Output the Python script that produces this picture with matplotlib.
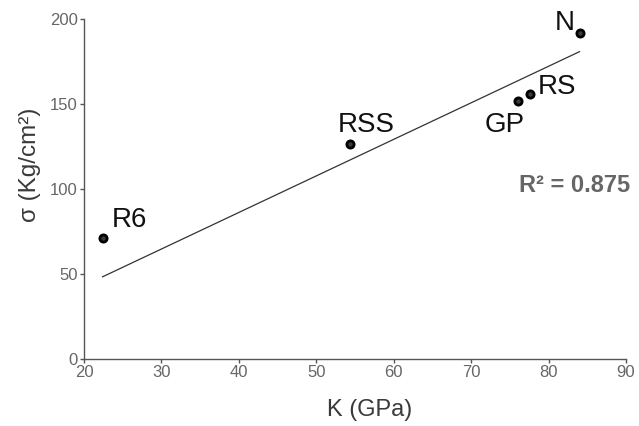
import matplotlib.pyplot as plt
import numpy as np

plt.rcParams['font.family'] = ['Liberation Sans', 'DejaVu Sans']

# values
names = ["R6", "RSS", "GP", "RS", "N"]
k_gpa = [22.4, 54.4, 76.1, 77.6, 84.0]
sigma = [71.0, 126.5, 151.5, 156.0, 191.5]
trend_slope = 2.15
trend_intercept = 0.2
r2_text = "R² = 0.875"

# label offsets in pixels from the point (dx, dy to baseline, ha)
label_pos = {
    "R6": (9, 11, "left"),
    "RSS": (-13, 12, "left"),
    "GP": (6, -31, "right"),
    "RS": (8, 0, "left"),
    "N": (-5, 3, "right"),
}


def main():
    fig = plt.figure(figsize=(6.39, 4.26), dpi=100)
    ax = fig.add_axes([84 / 639, 1 - 359 / 426, 542 / 639, 340 / 426])

    xs = np.array([min(k_gpa), max(k_gpa)])
    ax.plot(xs, trend_slope * xs + trend_intercept, color="#333333", lw=0.9)

    ax.plot(k_gpa, sigma, "o", ms=5.2, mfc="#3a3a3a", mec="black", mew=2)

    for name, x, y in zip(names, k_gpa, sigma):
        dx, dy, ha = label_pos[name]
        ax.annotate(name, (x, y), xytext=(dx, dy), textcoords="offset pixels",
                    ha=ha, va="baseline", fontsize=20, color="#111111")

    fig.text(630 / 639, 1 - 186 / 426, r2_text, ha="right", va="center",
             fontsize=17, fontweight="bold", color="#666666")

    ax.set_xlim(20, 90)
    ax.set_ylim(0, 200)
    ax.set_xticks(range(20, 91, 10))
    ax.set_yticks(range(0, 201, 50))
    for side in ["top", "right"]:
        ax.spines[side].set_visible(False)
    for side in ["left", "bottom"]:
        ax.spines[side].set_color("#555555")
        ax.spines[side].set_linewidth(1.0)
    ax.tick_params(length=3, width=1, color="#555555", labelcolor="#666666",
                   labelsize=12, pad=1.5)

    ax.set_xlabel("K (GPa)", fontsize=17, color="#3a3a3a")
    ax.xaxis.set_label_coords(0.527, -0.118)
    ax.set_ylabel("σ (Kg/cm²)", fontsize=17.5, color="#3a3a3a")
    ax.yaxis.set_label_coords(-0.08, 0.57)

    fig.savefig("out.png", dpi=100)


if __name__ == "__main__":
    main()
